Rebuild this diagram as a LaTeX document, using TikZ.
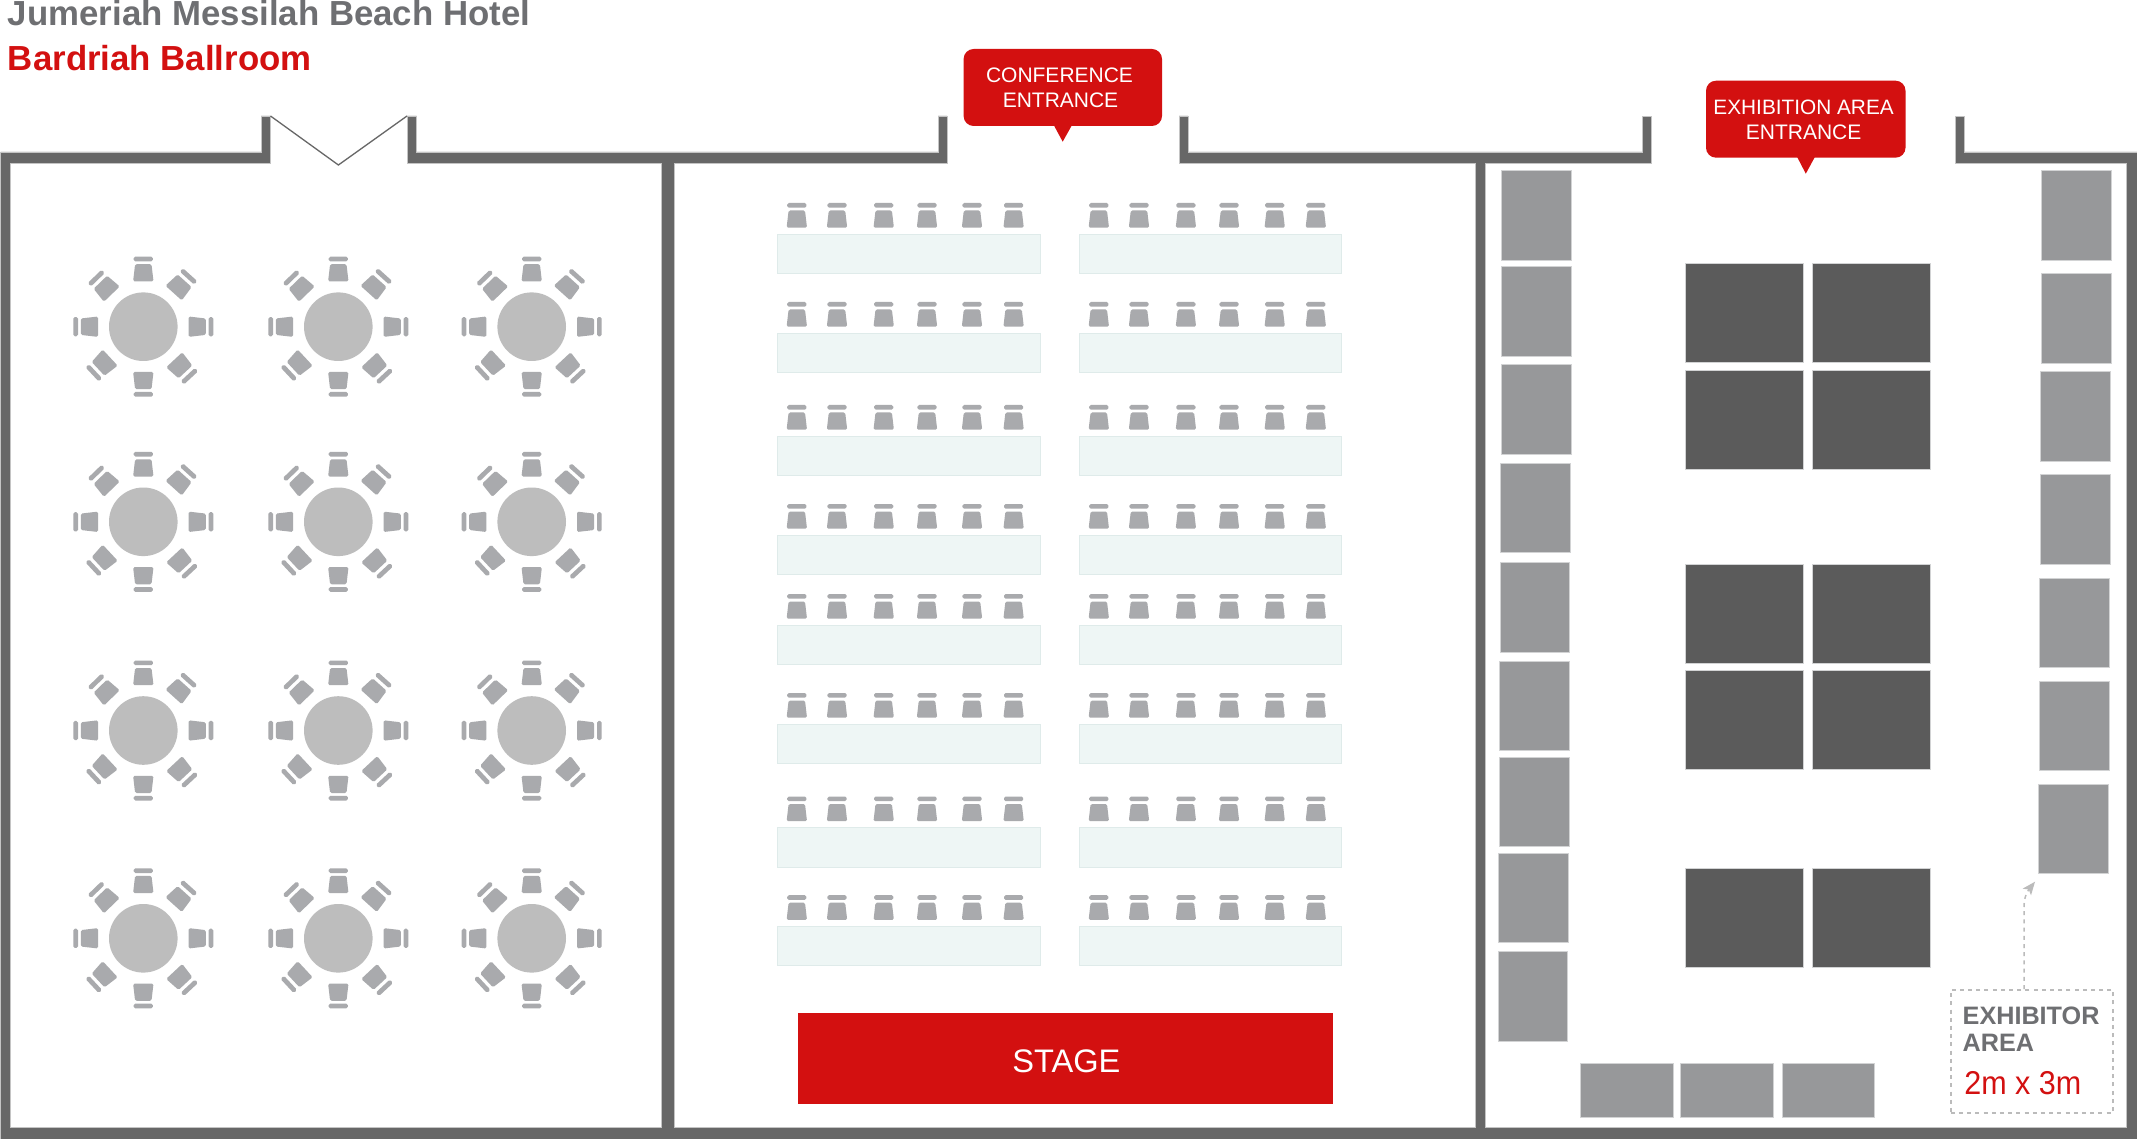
\documentclass[tikz,border=0pt]{standalone}
\usepackage{fontspec}
\setmainfont{Liberation Sans}
\usetikzlibrary{arrows.meta}
\definecolor{wallc}{HTML}{676767}
\definecolor{walledge}{HTML}{C4C4C4}
\definecolor{chairc}{HTML}{A9AAAD}
\definecolor{roundc}{HTML}{BDBDBD}
\definecolor{tablefill}{HTML}{EEF6F5}
\definecolor{tableedge}{HTML}{DFEBEA}
\definecolor{boothc}{HTML}{97989A}
\definecolor{boothedge}{HTML}{D2D3D4}
\definecolor{darkc}{HTML}{5B5B5B}
\definecolor{redc}{HTML}{D31010}
\definecolor{titlegrey}{HTML}{6E6F72}
\definecolor{dashc}{HTML}{BBBBBB}
\newcommand{\fs}[1]{\fontsize{#1}{#1}\selectfont}
\newcommand{\seatchair}{%
  \fill[chairc,rounded corners=1.5pt] (-10.2,0) -- (-8.2,17.2) -- (8.2,17.2) -- (10.2,0) -- cycle;
  \fill[chairc,rounded corners=1.6pt] (-9.6,20) rectangle (9.6,24.7);}
\newcommand{\diagchair}{%
  \fill[chairc,rounded corners=1.5pt] (-11,0) -- (-9.4,16.5) -- (9.4,16.5) -- (11,0) -- cycle;
  \fill[chairc,rounded corners=1.6pt] (-9.6,20) rectangle (9.6,24.7);}
\tikzset{
  x=1pt,y=1pt,
  booth/.style={fill=boothc,draw=boothedge,line width=.6pt},
  darkbooth/.style={fill=darkc,draw=boothedge,line width=.6pt},
  longtable/.style={fill=tablefill,draw=tableedge,line width=.8pt},
  txt/.style={inner sep=0pt,outer sep=0pt},
  calltxt/.style={txt,text=white,align=center,font=\fs{21}},
}
\begin{document}
\begin{tikzpicture}
\useasboundingbox (0,0) rectangle (2137,-1139);
\fill[white] (0,0) rectangle (2137,-1139);
% walls
\draw[fill=wallc,draw=walledge,line width=.7pt,line join=miter]
 (.6,-152)--(261,-152)--(261,-116)--(270.5,-116)--(270.5,-163.5)--(10.3,-163.5)--(10.3,-1127)
 --(661,-1127)--(661,-163.5)--(407,-163.5)--(407,-116)--(416.5,-116)--(416.5,-152)--(938,-152)
 --(938,-116)--(947,-116)--(947,-163.5)--(674,-163.5)--(674,-1127)--(1475,-1127)--(1475,-163.5)
 --(1179,-163.5)--(1179,-116)--(1188,-116)--(1188,-152)--(1642,-152)--(1642,-116.5)--(1651.4,-116.5)
 --(1651.4,-163.5)--(1485,-163.5)--(1485,-1127)--(2126.5,-1127)--(2126.5,-163.5)--(1955,-163.5)
 --(1955,-116.5)--(1964.7,-116.5)--(1964.7,-152)--(2137,-152)--(2137,-1139)--(.6,-1139)--cycle;
% double door
\draw[wallc,line width=1.3pt] (270.5,-116)--(338.4,-165)--(407,-116);
% titles
\node[txt,anchor=base west,font=\fs{34.8}\bfseries,text=titlegrey] (title1) at (8,-26) {Jumeriah Messilah Beach Hotel};
\node[txt,anchor=base west,font=\fs{34.8}\bfseries,text=redc] (title2) at (8,-70.7) {Bardriah Ballroom};
% round tables
\foreach \cy in {326.7,521.8,730.5,938.3}{
 \foreach \cx in {143.3,338.3,531.7}{
  \begin{scope}[shift={(\cx,-\cy)}]
   \fill[roundc] (0,0) circle (34.3);
   \foreach \r in {0,-90,180,90}{
    \begin{scope}[rotate=\r,shift={(0,45.3)}]\seatchair\end{scope}
   }
   \foreach \r in {-42,-137,133,44}{
    \begin{scope}[rotate=\r,shift={(0,45.3)}]\diagchair\end{scope}
   }
  \end{scope}
 }
}
% long tables with chairs
\foreach \ty in {234,333,436,535,625,724,827.5,926.2}{
 \draw[longtable] (777.3,-\ty) rectangle (1040,-\ty-39.6);
 \draw[longtable] (1079.3,-\ty) rectangle (1341.7,-\ty-39.6);
 \foreach \cx in {796.8,837,883.7,927,972,1013.6,1098.8,1139,1185.9,1229,1274.7,1315.8}{
  \begin{scope}[shift={(\cx,-\ty+6.3)}]\seatchair\end{scope}
 }
}
% stage
\node[txt,fill=redc,minimum width=535pt,minimum height=91.6pt,anchor=north west] (stage) at (798,-1012.8) {};
\node[txt,anchor=base,text=white,font=\fs{32.6}] (stagelabel) at (1066.4,-1072.5) {STAGE};
% left booths
\draw[booth] (1501,-170.7) rectangle (1571.3,-260.3);
\draw[booth] (1501,-266.7) rectangle (1571.3,-356);
\draw[booth] (1501,-364.3) rectangle (1571.3,-454);
\draw[booth] (1500.7,-463) rectangle (1570.3,-552.4);
\draw[booth] (1500,-562.5) rectangle (1569.7,-652);
\draw[booth] (1499.3,-661) rectangle (1569.3,-750.5);
\draw[booth] (1499,-757) rectangle (1569,-846.3);
\draw[booth] (1498.3,-853) rectangle (1568.3,-942.5);
\draw[booth] (1498,-951) rectangle (1567.7,-1041);
% right booths
\draw[booth] (2041,-170.7) rectangle (2111,-260);
\draw[booth] (2041,-273.7) rectangle (2111,-363.3);
\draw[booth] (2040.3,-371.7) rectangle (2110.3,-461.3);
\draw[booth] (2040,-474.7) rectangle (2110,-564.3);
\draw[booth] (2039.3,-578) rectangle (2109.3,-667.3);
\draw[booth] (2039,-681) rectangle (2109,-770.7);
\draw[booth] (2038.7,-784.3) rectangle (2108.5,-873.7);
% bottom booths
\draw[booth] (1580.7,-1063.3) rectangle (1673,-1117.4);
\draw[booth] (1680.7,-1063.3) rectangle (1773,-1117.4);
\draw[booth] (1782.3,-1063.3) rectangle (1874.7,-1117.4);
% centre stands
\foreach \a/\b in {263.7/362.7,370/469,564.2/663.5,670.6/769.4,867.8/967}{
 \draw[darkbooth] (1685.3,-\a) rectangle (1803.3,-\b);
 \draw[darkbooth] (1812.4,-\a) rectangle (1930.6,-\b);
}
% callouts
\fill[redc,rounded corners=10pt] (963.6,-49) rectangle (1162,-126);
\fill[redc] (1053.7,-125) -- (1062.7,-141.7) -- (1072,-125) -- cycle;
\node[calltxt,anchor=base] (conf1) at (1059.5,-82.7) {CONFERENCE};
\node[calltxt,anchor=base] (conf2) at (1060.5,-108) {ENTRANCE};
\fill[redc,rounded corners=10pt] (1706,-80.7) rectangle (1905.5,-157.7);
\fill[redc] (1797,-156.7) -- (1805.8,-173.7) -- (1815,-156.7) -- cycle;
\node[calltxt,anchor=base,font=\fs{20.8}] (exh1) at (1803.6,-115) {EXHIBITION AREA};
\node[calltxt,anchor=base] (exh2) at (1803.6,-140) {ENTRANCE};
% exhibitor key
\node[draw=dashc,dash pattern=on 4pt off 4.2pt,line width=1.5pt,inner sep=0pt,minimum width=162.3pt,minimum height=123pt,anchor=north west] (exbox) at (1950,-989) {};
\coordinate (arrowstart) at (2024,-989);
\coordinate (arrowtip) at (2035,-881.7);
\draw[dashc,line width=1.5pt,dash pattern=on 4pt off 4.2pt,-{Stealth[length=13pt,width=10.5pt,inset=3pt]}]
  (arrowstart) -- (2024,-908) .. controls (2024,-899) and (2026,-893) .. (arrowtip);
\node[txt,anchor=base west,font=\fs{25.2}\bfseries,text=titlegrey] (ex1) at (1962.7,-1024.7) {EXHIBITOR};
\node[txt,anchor=base west,font=\fs{25.2}\bfseries,text=titlegrey] (ex2) at (1962.7,-1051.3) {AREA};
\node[txt,anchor=base west,font=\fs{33},text=redc,xscale=.925,transform shape] (ex3) at (1964.3,-1094) {2m x 3m};
\end{tikzpicture}
\end{document}
